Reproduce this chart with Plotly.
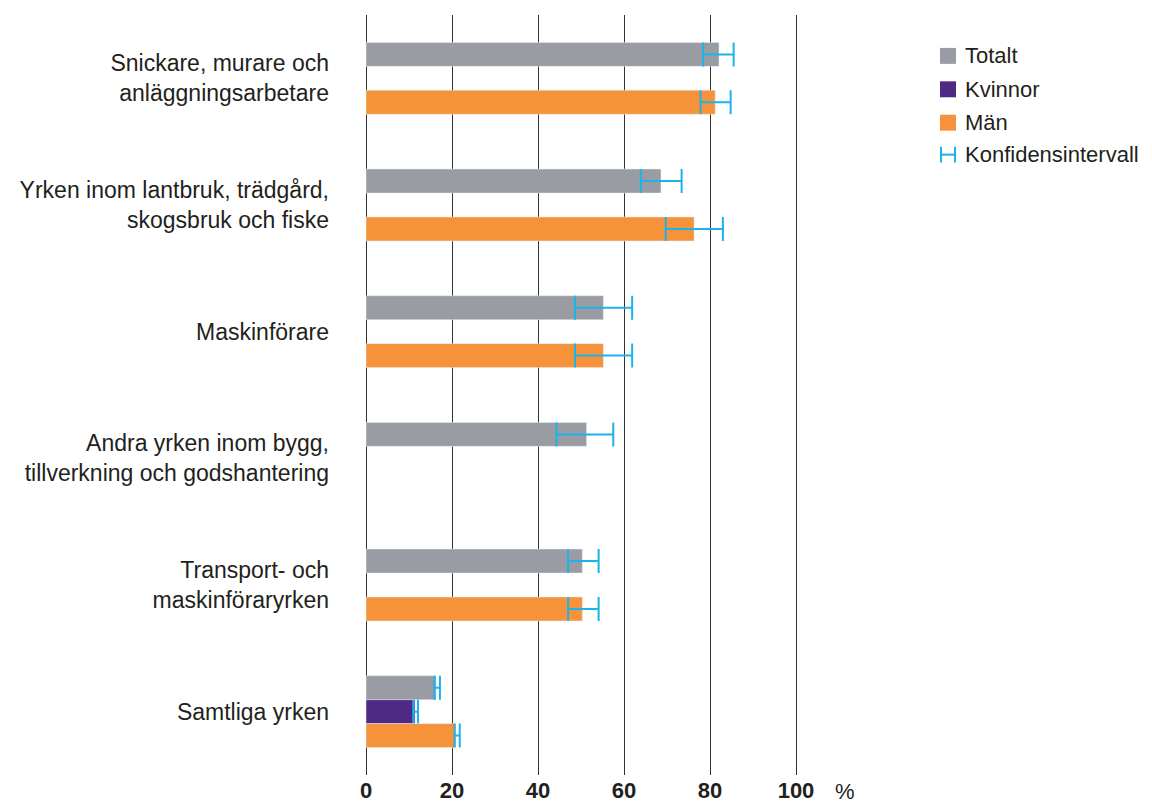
import plotly.graph_objects as go

# Andel (%) per yrkesgrupp
categories = [
    "Snickare, murare och<br>anläggningsarbetare",
    "Yrken inom lantbruk, trädgård,<br>skogsbruk och fiske",
    "Maskinförare",
    "Andra yrken inom bygg,<br>tillverkning och godshantering",
    "Transport- och<br>maskinföraryrken",
    "Samtliga yrken",
]

totalt = [82.1, 68.6, 55.2, 51.3, 50.3, 16.3]
totalt_lo = [78.4, 63.9, 48.6, 44.3, 47.0, 15.9]
totalt_hi = [85.5, 73.4, 61.9, 57.5, 54.1, 17.2]

kvinnor = [None, None, None, None, None, 11.4]
kvinnor_lo = [None, None, None, None, None, 11.0]
kvinnor_hi = [None, None, None, None, None, 12.1]

man = [81.2, 76.3, 55.2, None, 50.3, 20.9]
man_lo = [77.8, 69.7, 48.6, None, 47.0, 20.6]
man_hi = [84.8, 83.0, 61.9, None, 54.1, 21.8]

x_ticks = [0, 20, 40, 60, 80, 100]

GREY = "#9a9ca3"
PURPLE = "#4e2a84"
ORANGE = "#f5923a"
CYAN = "#1ab4ea"
TEXT = "#231f20"
GRID = "#333333"
FONT = "Liberation Sans"


def err_plus(vals, hi):
    return [(h - v) if v is not None else 0 for v, h in zip(vals, hi)]


def err_minus(vals, lo):
    return [(v - l) if v is not None else 0 for v, l in zip(vals, lo)]


fig = go.Figure()

for name, vals, lo, hi, color in [
    ("Totalt", totalt, totalt_lo, totalt_hi, GREY),
    ("Kvinnor", kvinnor, kvinnor_lo, kvinnor_hi, PURPLE),
    ("Män", man, man_lo, man_hi, ORANGE),
]:
    fig.add_trace(go.Bar(
        name=name,
        y=categories,
        x=vals,
        orientation="h",
        marker=dict(color=color),
        error_x=dict(
            type="data", symmetric=False,
            array=err_plus(vals, hi), arrayminus=err_minus(vals, lo),
            color=CYAN, thickness=2, width=12,
        ),
        showlegend=False,
    ))

# page body has an 8px margin, so the figure is 8px smaller than the window
fig.update_layout(
    width=1144, height=802,
    margin=dict(l=358, r=356, t=7, b=33),
    plot_bgcolor="white", paper_bgcolor="white",
    barmode="group", bargap=0.433, bargroupgap=0,
    font=dict(family=FONT, color=TEXT),
)

fig.update_xaxes(
    range=[0, 100], tickvals=x_ticks,
    showgrid=True, gridcolor=GRID, gridwidth=1,
    zeroline=True, zerolinecolor=GRID, zerolinewidth=1,
    showline=False, ticks="",
    tickfont=dict(family=FONT, size=22, color=TEXT, weight="bold"),
)
fig.update_yaxes(
    autorange="reversed", showgrid=False, ticks="", showline=False,
    ticklabelstandoff=36,
    tickfont=dict(family=FONT, size=23, color=TEXT),
)

# plotly drops the gridline at the right edge, draw it (pixel-aligned)
fig.add_shape(type="line", xref="paper", yref="paper",
              xsizemode="pixel", xanchor=1, x0=0.5, x1=0.5, y0=0, y1=1,
              line=dict(color=GRID, width=1), layer="below")

# "%" after the last tick
fig.add_annotation(
    x=100, xref="x", y=0, yref="paper", yanchor="top",
    xshift=49, yshift=-2, text="%", showarrow=False,
    font=dict(family=FONT, size=22, color=TEXT),
)


# manual legend (window pixel positions converted to paper coords)
def px_x(p):
    return (p - 366) / 430


def px_y(p):
    return (777 - p) / 762


legend_items = [("Totalt", GREY), ("Kvinnor", PURPLE), ("Män", ORANGE)]
for i, (label, color) in enumerate(legend_items):
    top = 48 + i * 33.5
    fig.add_shape(type="rect", xref="paper", yref="paper",
                  x0=px_x(940), x1=px_x(956), y0=px_y(top), y1=px_y(top + 16),
                  fillcolor=color, line=dict(width=0))
    fig.add_annotation(x=px_x(963), y=px_y(top + 8), xref="paper", yref="paper",
                       xanchor="left", yanchor="middle", text=label, showarrow=False,
                       font=dict(family=FONT, size=22, color=TEXT))

ci_top = 147
ci_mid = ci_top + 8
for x0, y0, x1, y1 in [(941, ci_top, 941, ci_top + 16),
                       (955, ci_top, 955, ci_top + 16),
                       (941, ci_mid, 955, ci_mid)]:
    fig.add_shape(type="line", xref="paper", yref="paper",
                  x0=px_x(x0), x1=px_x(x1), y0=px_y(y0), y1=px_y(y1),
                  line=dict(color=CYAN, width=2))
fig.add_annotation(x=px_x(963), y=px_y(ci_mid), xref="paper", yref="paper",
                   xanchor="left", yanchor="middle", text="Konfidensintervall",
                   showarrow=False, font=dict(family=FONT, size=22, color=TEXT))

fig.write_html("out.html")
